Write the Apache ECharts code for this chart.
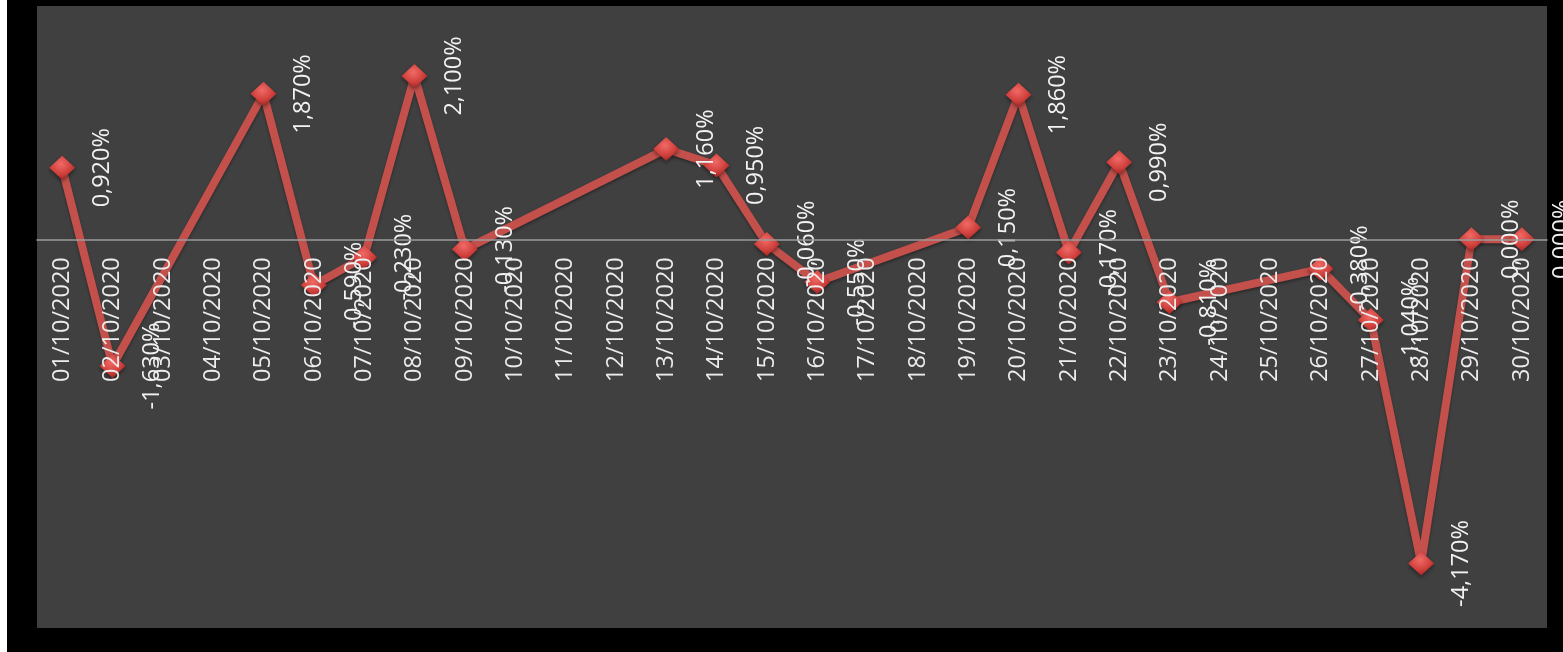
<!DOCTYPE html>
<html>
<head>
<meta charset="utf-8">
<script src="https://cdn.jsdelivr.net/npm/echarts@6/dist/echarts.min.js"></script>
<style>
html,body{margin:0;padding:0;background:#ffffff;width:1563px;height:652px;overflow:hidden;}
#chart{position:absolute;left:7px;top:0;width:1556px;height:652px;background:#000000;}
</style>
</head>
<body>
<div id="chart"></div>
<script>
const categories = [
  "01/10/2020","02/10/2020","03/10/2020","04/10/2020","05/10/2020","06/10/2020",
  "07/10/2020","08/10/2020","09/10/2020","10/10/2020","11/10/2020","12/10/2020",
  "13/10/2020","14/10/2020","15/10/2020","16/10/2020","17/10/2020","18/10/2020",
  "19/10/2020","20/10/2020","21/10/2020","22/10/2020","23/10/2020","24/10/2020",
  "25/10/2020","26/10/2020","27/10/2020","28/10/2020","29/10/2020","30/10/2020"
];
const values = [
  0.92, -1.63, null, null, 1.87, -0.59,
  -0.23, 2.10, -0.13, null, null, null,
  1.16, 0.95, -0.06, -0.55, null, null,
  0.15, 1.86, -0.17, 0.99, -0.81, null,
  null, -0.38, -1.04, -4.17, 0.00, 0.00
];
const yMin = -5, yMax = 3;

const W = 1556, H = 652;
const gLeft = 30, gRight = 16, gTop = 6, gBottom = 24;
const plotH = H - gTop - gBottom;
// upper grid ends exactly at the value-axis zero line, so its category axis sits on zero
const upperH = plotH * (yMax - 0) / (yMax - yMin);

const chart = echarts.init(document.getElementById('chart'));
const SYM_W = 26, SYM_H = 24;
chart.setOption({
  backgroundColor: '#000000',
  animation: false,
  grid: [{
    left: gLeft, right: gRight, top: gTop, bottom: gBottom,
    outerBoundsMode: 'none', containLabel: false,
    show: true, backgroundColor: '#404040', borderWidth: 0
  }, {
    left: gLeft, right: gRight, top: gTop, height: upperH,
    outerBoundsMode: 'none', containLabel: false,
    show: false
  }],
  xAxis: [{
    type: 'category', gridIndex: 0,
    data: categories,
    boundaryGap: true,
    axisLine: { show: false },
    axisTick: { show: false },
    axisLabel: { show: false },
    splitLine: { show: false }
  }, {
    type: 'category', gridIndex: 1, position: 'bottom',
    data: categories,
    boundaryGap: true,
    z: 10,
    axisLine: { show: true, onZero: false, lineStyle: { color: '#9a9a9a', width: 1.5 } },
    axisTick: { show: false },
    axisLabel: {
      interval: 0, rotate: 90, margin: 18, hideOverlap: false,
      color: '#ececec', fontFamily: 'Open Sans', fontSize: 23.5
    },
    splitLine: { show: false }
  }],
  yAxis: [{
    type: 'value', gridIndex: 0, min: yMin, max: yMax, interval: 1,
    axisLine: { show: false }, axisTick: { show: false },
    axisLabel: { show: false }, splitLine: { show: false }
  }, {
    type: 'value', gridIndex: 1, min: 0, max: yMax, interval: 1,
    axisLine: { show: false }, axisTick: { show: false },
    axisLabel: { show: false }, splitLine: { show: false }
  }],
  series: [{
    type: 'line',
    xAxisIndex: 0, yAxisIndex: 0,
    data: values,
    connectNulls: true,
    symbol: 'diamond',
    symbolSize: [SYM_W, SYM_H],
    lineStyle: {
      color: '#c4504c', width: 8,
      shadowColor: 'rgba(0,0,0,0.35)', shadowBlur: 3, shadowOffsetY: 2
    },
    itemStyle: {
      color: new echarts.graphic.RadialGradient(0.45, 0.35, 0.75, [
        { offset: 0, color: '#f06a66' },
        { offset: 0.55, color: '#d0403c' },
        { offset: 1, color: '#8e1c1a' }
      ]),
      borderWidth: 0,
      shadowColor: 'rgba(0,0,0,0.45)', shadowBlur: 4, shadowOffsetY: 2
    },
    label: {
      show: true,
      position: [SYM_W / 2 + 40, SYM_H / 2],
      rotate: 90,
      align: 'center',
      verticalAlign: 'middle',
      color: '#f2f2f2',
      fontFamily: 'Open Sans',
      fontSize: 23.5,
      formatter: p => p.value == null ? '' : p.value.toFixed(3).replace('.', ',') + '%'
    },
    emphasis: { disabled: true },
    z: 3
  }]
});
</script>
</body>
</html>
